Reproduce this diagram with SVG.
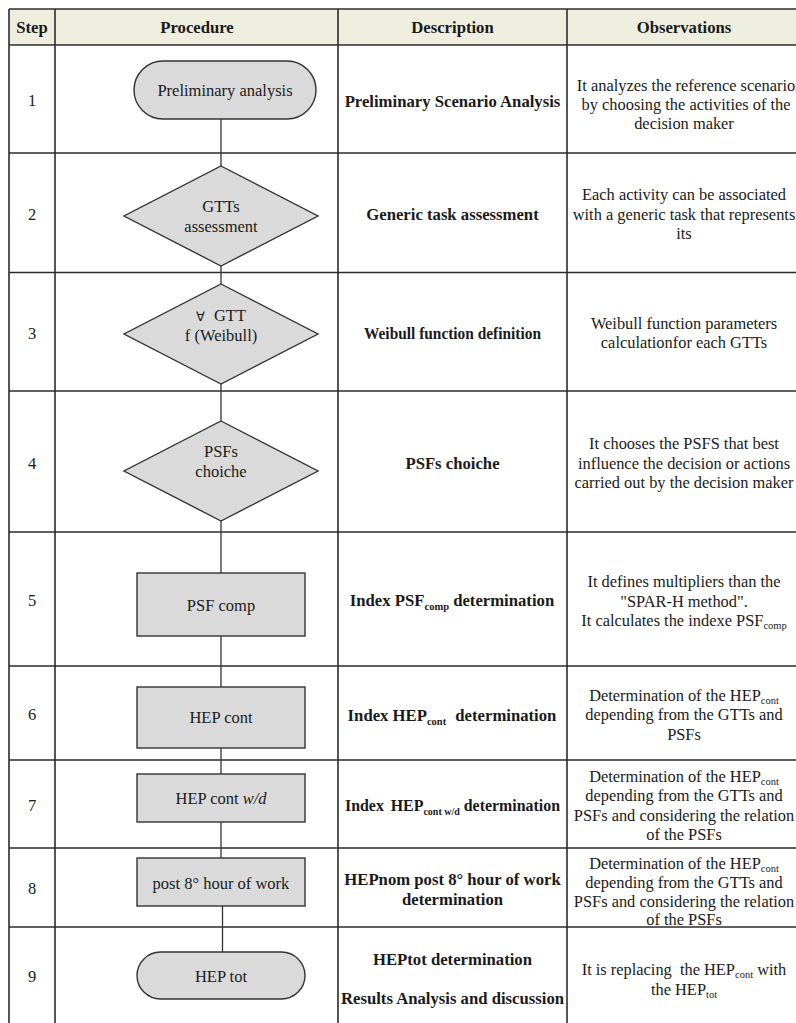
<svg xmlns="http://www.w3.org/2000/svg" width="796" height="1023" viewBox="0 0 796 1023">
<style>
.grid{stroke:#2b2b2b;stroke-width:1.6;fill:none}
.node{fill:#dadada;stroke:#333;stroke-width:1.4}
.conn{stroke:#333;stroke-width:1.3;fill:none}
text{font-family:"Liberation Serif","Times New Roman",serif;fill:#1a1a1a;text-anchor:middle}
.h{font-size:16.7px;font-weight:bold}
.p{font-size:16.5px}
.d{font-size:16.7px;font-weight:bold}
.o{font-size:16.4px}
.n{font-size:16.5px}
.s{font-size:10.5px}
</style>
<rect x="0" y="0" width="796" height="1023" fill="#ffffff"/>
<g id="table">
<rect x="9" y="9" width="790" height="36" fill="#eeeedf"/>
<g class="grid">
<line x1="9" y1="9" x2="9" y2="1023"/>
<line x1="55" y1="9" x2="55" y2="1023"/>
<line x1="338" y1="9" x2="338" y2="1023"/>
<line x1="567" y1="9" x2="567" y2="1023"/>
<line x1="9" y1="9" x2="796" y2="9"/>
<line x1="9" y1="45" x2="796" y2="45"/>
<line x1="9" y1="153" x2="796" y2="153"/>
<line x1="9" y1="272.5" x2="796" y2="272.5"/>
<line x1="9" y1="391" x2="796" y2="391"/>
<line x1="9" y1="532" x2="796" y2="532"/>
<line x1="9" y1="666" x2="796" y2="666"/>
<line x1="9" y1="760" x2="796" y2="760"/>
<line x1="9" y1="848" x2="796" y2="848"/>
<line x1="9" y1="927" x2="796" y2="927"/>
</g>
<text class="h" x="32" y="33">Step</text>
<text class="h" x="197" y="33">Procedure</text>
<text class="h" x="452.5" y="33">Description</text>
<text class="h" x="684" y="33">Observations</text>
<text class="n" x="32" y="105.5">1</text>
<text class="n" x="32" y="219.5">2</text>
<text class="n" x="32" y="339">3</text>
<text class="n" x="32" y="469">4</text>
<text class="n" x="32" y="605.5">5</text>
<text class="n" x="32" y="719.5">6</text>
<text class="n" x="32" y="810.5">7</text>
<text class="n" x="32" y="894">8</text>
<text class="n" x="32" y="982">9</text>
</g>
<g id="connectors" class="conn">
<line x1="221" y1="119" x2="221" y2="166"/>
<line x1="221" y1="266" x2="221" y2="284"/>
<line x1="221" y1="384" x2="221" y2="421"/>
<line x1="221" y1="521" x2="221" y2="573"/>
<line x1="221" y1="636" x2="221" y2="687"/>
<line x1="221" y1="748" x2="221" y2="774"/>
<line x1="221" y1="822" x2="221" y2="858"/>
<line x1="222.5" y1="906" x2="222.5" y2="952"/>
</g>
<g id="node1">
<rect class="node" x="134" y="61" width="182" height="58" rx="29" ry="29"/>
<text class="p" x="225" y="95.5">Preliminary analysis</text>
</g>
<g id="node2">
<polygon class="node" points="221,166 318,216 221,266 124,216"/>
<text class="p" x="221" y="212">GTTs</text>
<text class="p" x="221" y="232">assessment</text>
</g>
<g id="node3">
<polygon class="node" points="221,284 318,334 221,384 124,334"/>
<text class="p" x="221" y="321"><tspan font-size="13px">∀</tspan><tspan dx="9">GTT</tspan></text>
<text class="p" x="221" y="341">f (Weibull)</text>
</g>
<g id="node4">
<polygon class="node" points="221,421 318,471 221,521 124,471"/>
<text class="p" x="221" y="457">PSFs</text>
<text class="p" x="221" y="477">choiche</text>
</g>
<g id="node5">
<rect class="node" x="137" y="573" width="168" height="63"/>
<text class="p" x="221" y="611">PSF comp</text>
</g>
<g id="node6">
<rect class="node" x="137" y="687" width="168" height="61"/>
<text class="p" x="221" y="723">HEP cont</text>
</g>
<g id="node7">
<rect class="node" x="137" y="774" width="168" height="48"/>
<text class="p" x="221" y="804">HEP cont <tspan font-style="italic">w/d</tspan></text>
</g>
<g id="node8">
<rect class="node" x="137" y="858" width="168" height="48"/>
<text class="p" x="221" y="889">post 8° hour of work</text>
</g>
<g id="node9">
<rect class="node" x="137" y="952" width="168" height="47" rx="23.5" ry="23.5"/>
<text class="p" x="221" y="982">HEP tot</text>
</g>
<g id="descriptions">
<text class="d" x="452.5" y="106.5">Preliminary Scenario Analysis</text>
<text class="d" x="452.5" y="219.5">Generic task assessment</text>
<text class="d" x="452.5" y="338.5" textLength="177" lengthAdjust="spacingAndGlyphs">Weibull function definition</text>
<text class="d" x="452.5" y="469">PSFs choiche</text>
<text class="d" x="452" y="605.5">Index PSF<tspan class="s" dy="4">comp</tspan><tspan dy="-4"> determination</tspan></text>
<text class="d" x="452" y="720.5">Index HEP<tspan class="s" dy="4">cont</tspan><tspan dy="-4" dx="5"> determination</tspan></text>
<text class="d" x="452.5" y="810.5" textLength="215" lengthAdjust="spacingAndGlyphs">Index <tspan dx="3">HEP</tspan><tspan class="s" dy="4">cont w/d</tspan><tspan dy="-4"> determination</tspan></text>
<text class="d" x="452.5" y="884.5">HEPnom post 8° hour of work</text>
<text class="d" x="452.5" y="904.5">determination</text>
<text class="d" x="452.5" y="965">HEPtot determination</text>
<text class="d" x="452.5" y="1004">Results Analysis and discussion</text>
</g>
<g id="observations">
<text class="o" x="686" y="91">It analyzes the reference scenario</text>
<text class="o" x="686" y="110">by choosing the activities of the</text>
<text class="o" x="684" y="129">decision maker</text>
<text class="o" x="684" y="200">Each activity can be associated</text>
<text class="o" x="684" y="219.5">with a generic task that represents</text>
<text class="o" x="684" y="238.5">its</text>
<text class="o" x="684" y="328.5">Weibull function parameters</text>
<text class="o" x="684" y="348">calculationfor each GTTs</text>
<text class="o" x="684" y="449">It chooses the PSFS that best</text>
<text class="o" x="684" y="468.5">influence the decision or actions</text>
<text class="o" x="684" y="488">carried out by the decision maker</text>
<text class="o" x="684" y="587">It defines multipliers than the</text>
<text class="o" x="684" y="606.5">"SPAR-H method".</text>
<text class="o" x="684" y="626">It calculates the indexe PSF<tspan class="s" dy="3">comp</tspan></text>
<text class="o" x="684" y="700.5">Determination of the HEP<tspan class="s" dy="3">cont</tspan></text>
<text class="o" x="684" y="720">depending from the GTTs and</text>
<text class="o" x="684" y="740">PSFs</text>
<text class="o" x="684" y="781.5">Determination of the HEP<tspan class="s" dy="3">cont</tspan></text>
<text class="o" x="684" y="801">depending from the GTTs and</text>
<text class="o" x="684" y="820.5">PSFs and considering the relation</text>
<text class="o" x="684" y="840">of the PSFs</text>
<text class="o" x="684" y="868.5">Determination of the HEP<tspan class="s" dy="3">cont</tspan></text>
<text class="o" x="684" y="888">depending from the GTTs and</text>
<text class="o" x="684" y="907">PSFs and considering the relation</text>
<text class="o" x="684" y="924.5">of the PSFs</text>
<text class="o" x="684" y="975">It is replacing <tspan dx="4">the HEP</tspan><tspan class="s" dy="3">cont</tspan><tspan dy="-3"> with</tspan></text>
<text class="o" x="684" y="995">the HEP<tspan class="s" dy="3">tot</tspan></text>
</g>
</svg>
